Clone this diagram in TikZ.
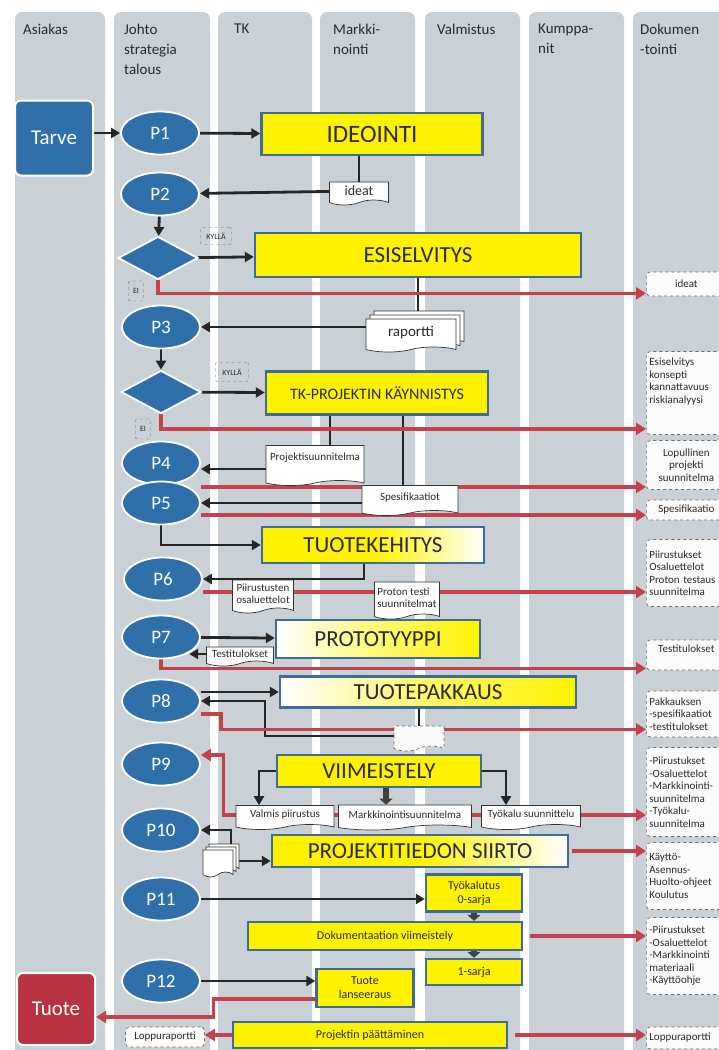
\documentclass[tikz,border=0pt]{standalone}
\usepackage{fontspec}
\setmainfont{Carlito}
\usetikzlibrary{shapes.geometric,shapes.symbols,arrows.meta,shadows}

\definecolor{lanegray}{HTML}{C9D1D7}
\definecolor{pblue}{HTML}{2F6FAA}
\definecolor{tuotered}{HTML}{B8323F}
\definecolor{arrred}{HTML}{C4414E}
\definecolor{ylw}{HTML}{FFF200}
\definecolor{boxline}{HTML}{3F6C94}
\definecolor{txt}{HTML}{2B2B2B}

\pgfdeclarelayer{lanes}
\pgfdeclarelayer{lines}
\pgfsetlayers{lanes,lines,main}

\tikzset{
  lane/.style={fill=lanegray,rounded corners=7pt},
  lanehead/.style={anchor=north west,align=left,inner sep=0pt,text=txt,font=\fontsize{15}{20}\selectfont},
  pnode/.style={ellipse,fill=pblue,draw=white,line width=1.8pt,minimum width=78pt,minimum height=43pt,inner sep=0pt,text=white,font=\fontsize{19}{19}\selectfont},
  choice/.style={diamond,fill=pblue,draw=white,line width=1.8pt,minimum width=80pt,minimum height=43pt,inner sep=0pt},
  endbox/.style={rounded corners=6pt,draw=white,line width=2pt,minimum width=78pt,text=white,font=\fontsize{21}{21}\selectfont},
  task/.style={draw=boxline,line width=2.4pt,fill=ylw,text=txt,inner sep=0pt},
  bigtask/.style={task,font=\fontsize{23}{23}\selectfont},
  smalltask/.style={task,align=center,font=\fontsize{12}{14}\selectfont},
  doc/.style={tape,tape bend top=none,tape bend bottom=in and out,tape bend height=5pt,draw=black!80,line width=0.7pt,fill=white,text=txt,inner sep=1pt,align=center,font=\fontsize{11}{12}\selectfont},
  stack/.style={double copy shadow={shadow xshift=#1,shadow yshift=#1}},
  tag/.style={draw=gray!80!black,dashed,rounded corners=2pt,inner sep=1pt,text=txt,font=\fontsize{8}{8}\selectfont},
  note/.style={draw=gray!85!black,dashed,line width=0.7pt,rounded corners=4pt,fill=white!92!lanegray,text=txt,inner sep=2pt,font=\fontsize{11}{12.5}\selectfont},
  record/.style={note,anchor=west,text width=74pt,inner xsep=3pt,inner ysep=0pt},
  blk/.style={draw=black!85,line width=2.8pt,-{Triangle[length=9pt,width=10pt]}},
  blkline/.style={draw=black!85,line width=2.5pt},
  fat/.style={draw=black!75,line width=6pt,-{Triangle[length=6pt,width=13pt]}},
  reda/.style={draw=arrred,line width=3.6pt,-{Triangle[length=10pt,width=12pt]}}
}

\begin{document}
\begin{tikzpicture}[x=1pt,y=-1pt]
\useasboundingbox (0,0) rectangle (718,1050);

\begin{pgfonlayer}{lanes}
\foreach \xa/\xb in {15/105,114/210,218/312,320/415,425/520,529/624,633/740}
  \fill[lane] (\xa,12) rectangle (\xb,1070);
\end{pgfonlayer}

\foreach \hx/\htxt [count=\i] in {23/Asiakas,124/{Johto\\strategia\\talous},234/TK,333/{Markki-\\nointi},437/Valmistus,538/{Kumppa-\\nit},640/{Dokumen\\-tointi}}
  \node[lanehead] at (\hx,24) (h\i) {\htxt};

\node[endbox,fill=pblue,minimum height=75pt] at (54,138) (tarve) {Tarve};
\node[pnode] at (160,133) (p1) {P1};
\node[bigtask,font=\fontsize{25}{25}\selectfont,minimum width=221pt,minimum height=42pt] at (372,134) (ideo) {IDEOINTI};
\node[doc,font=\fontsize{14}{14}\selectfont,minimum width=59pt,minimum height=23pt] at (359,191) (ideat) {ideat};
\node[pnode] at (160,194) (p2) {P2};
\node[choice] at (158,258) (d1) {};
\node[tag,minimum width=31pt,minimum height=17pt] at (216,236) (kyl1) {KYLLÄ};
\node[tag,minimum width=15pt,minimum height=20pt] at (136,291) (ei1) {EI};
\node[bigtask,minimum width=326pt,minimum height=44pt] at (418,255) (esis) {ESISELVITYS};
\node[doc,stack=4pt,font=\fontsize{15}{15}\selectfont,minimum width=90pt,minimum height=33pt] at (411,333) (rap) {raportti};
\node[pnode] at (161,327) (p3) {P3};
\node[choice] at (161,392) (d2) {};
\node[tag,minimum width=33pt,minimum height=19pt] at (232,372) (kyl2) {KYLLÄ};
\node[tag,minimum width=15pt,minimum height=20pt] at (143,429) (ei2) {EI};
\node[task,font=\fontsize{16}{16}\selectfont,minimum width=222pt,minimum height=43pt] at (377,393) (tkp) {TK-PROJEKTIN KÄYNNISTYS};
\node[doc,minimum width=98pt,minimum height=40pt] at (315,463) (projs) {Projektisuunnitelma\\ \mbox{}};
\node[pnode] at (161,463) (p4) {P4};
\node[pnode] at (161,503) (p5) {P5};
\node[doc,minimum width=96pt,minimum height=30pt] at (410,498) (spes) {Spesifikaatiot};

\node[bigtask,left color=ylw,right color=white,middle color=ylw,minimum width=222pt,minimum height=36pt] at (373,545) (tkeh) {TUOTEKEHITYS};
\node[pnode] at (163,579) (p6) {P6};
\node[doc,minimum width=61pt,minimum height=33pt] at (263,594) (piir) {Piirustusten\\osaluettelot};
\node[doc,align=left,minimum width=65pt,minimum height=37pt] at (407,598) (proton) {Proton testi\\suunnitelmat};
\node[pnode] at (161,637) (p7) {P7};
\node[bigtask,left color=white,right color=ylw,middle color=ylw!55!white,minimum width=204pt,minimum height=38pt] at (378,639) (proto) {PROTOTYYPPI};
\node[doc,inner sep=0.5pt,minimum width=67pt,minimum height=19pt] at (240,654) (testd) {Testitulokset};
\node[pnode] at (161,701) (p8) {P8};
\node[bigtask,left color=white,right color=ylw,middle color=ylw!60!white,minimum width=296pt,minimum height=31pt] at (428,692) (tpak) {TUOTEPAKKAUS};
\node[doc,dashed,draw=gray!80!black,fill=white!90!lanegray,minimum width=50pt,minimum height=25pt] at (419,736) (packd) {};
\coordinate (k8) at (265,701);

\node[pnode] at (161,764) (p9) {P9};
\node[bigtask,minimum width=204pt,minimum height=32pt] at (379,771) (viim) {VIIMEISTELY};
\node[doc,minimum width=98pt,minimum height=24pt] at (285,815) (valm) {Valmis piirustus};
\node[doc,minimum width=133pt,minimum height=25pt] at (405,815) (markk) {Markkinointisuunnitelma};
\node[doc,minimum width=99pt,minimum height=24pt] at (531,815) (tyk) {Työkalu suunnittelu};
\node[pnode] at (161,830) (p10) {P10};
\node[doc,stack=3pt,minimum width=30pt,minimum height=27pt] at (218,861) (mdoc) {};
\node[bigtask,left color=ylw,right color=white,middle color=ylw,minimum width=296pt,minimum height=32pt] at (420,851) (ptied) {PROJEKTITIEDON SIIRTO};
\node[pnode] at (161,899) (p11) {P11};
\node[smalltask,minimum width=96pt,minimum height=37pt] at (474,893) (tyokal) {Työkalutus\\0-sarja};
\node[smalltask,minimum width=274pt,minimum height=28pt] at (385,936) (doku) {Dokumentaation viimeistely};
\node[smalltask,minimum width=96pt,minimum height=26pt] at (474,972) (sarja1) {1-sarja};
\node[pnode] at (161,981) (p12) {P12};
\node[smalltask,minimum width=97pt,minimum height=38pt] at (365,988) (tl) {Tuote\\lanseeraus};
\node[endbox,fill=tuotered,minimum height=72pt] at (56,1009) (tuote) {Tuote};
\node[note,minimum width=79pt,minimum height=20pt] at (165,1037) (lopl) {Loppuraportti};
\node[smalltask,minimum width=274pt,minimum height=26pt] at (370,1035) (pp) {Projektin päättäminen};

\node[record,align=center,minimum height=24pt] at (646,284) (rid) {ideat};
\node[record,align=left,minimum height=83pt] at (646,393) (resis) {Esiselvitys\\konsepti\\kannattavuus\\riskianalyysi\\ \mbox{}\\ \mbox{}};
\node[record,align=center,minimum height=49pt] at (646,465) (rlop) {Lopullinen\\projekti\\suunnitelma};
\node[record,align=center,minimum height=20pt] at (646,510) (rspe) {Spesifikaatio};
\node[record,align=left,minimum height=67pt] at (646,573) (rpir) {Piirustukset\\Osaluettelot\\Proton testaus\\suunnitelma};
\node[record,align=center,minimum height=30pt] at (646,655) (rtest) {Testitulokset\\ \mbox{}};
\node[record,align=left,minimum height=46pt] at (646,714) (rpak) {Pakkauksen\\-spesifikaatiot\\-testitulokset};
\node[record,align=left,minimum height=89pt] at (646,792) (rpir2) {-Piirustukset\\-Osaluettelot\\-Markkinointi-\\suunnitelma\\-Työkalu-\\suunnitelma};
\node[record,align=left,minimum height=67pt] at (646,876) (rkay) {Käyttö-\\Asennus-\\Huolto-ohjeet\\Koulutus};
\node[record,align=left,minimum height=77pt] at (646,956) (rpir3) {-Piirustukset\\-Osaluettelot\\-Markkinointi\\materiaali\\-Käyttöohje};
\node[record,align=left,minimum height=22pt] at (646,1038) (lopr) {Loppuraportti};

\coordinate (a1) at ([xshift=15pt]projs.north);
\coordinate (a2) at ([xshift=-7pt]spes.north);
\coordinate (a3) at ([xshift=-9pt]tkeh.south);
\coordinate (a4) at ([xshift=-26pt]valm.north);
\coordinate (a5) at ([xshift=-25pt]tyk.north);
\coordinate (a6) at ([xshift=13pt]mdoc.north);
\coordinate (a7) at ([xshift=7pt]viim.south);
\coordinate (r4) at ([yshift=-24pt]p4.east);
\coordinate (r5) at ([yshift=-12pt]p5.east);
\coordinate (r6) at ([yshift=-13pt]p6.east);
\coordinate (r8) at ([yshift=-13pt]p8.east);
\coordinate (rt) at ([yshift=-11pt]tl.west);

\begin{pgfonlayer}{lines}
\path[every edge/.style=blk]
  (tarve.east |- p1) edge (p1)
  (p1) edge (ideo)
  (ideat) edge (p2)
  (p2) edge (d1)
  (d1) edge (esis)
  (p3.east -| rap.west) edge (p3.east)
  (p3) edge (d2)
  (d2) edge (tkp)
  ([yshift=-6pt]projs.west) edge ([yshift=-6pt]p4.east)
  (spes.west |- p5) edge (p5)
  (p7) edge (proto)
  (testd.west) edge (testd.west -| p7.south east)
  (tpak.west -| p8.east) edge (tpak.west)
  (mdoc) edge (mdoc -| ptied.west)
  (p11.east) edge (p11.east -| tyokal.west)
  (p12.east) edge (p12.east -| tl.west)
  ;
\draw[blk] (p5.south) |- (tkeh.west);
\draw[blk] (a3) |- (p6.east);
\draw[blk] (packd.west) -| (k8) -- (p8);
\draw[blk] (viim.west) -| (a4);
\draw[blk] (viim.east) -| (a5);
\draw[blk] (a6) |- (p10.east);

\draw[blkline] (ideat.north) -- (ideat.north |- ideo.south);
\draw[blkline] (esis.south) -- (esis.south |- rap.north);
\draw[blkline] (a1) -- (a1 |- tkp.south);
\draw[blkline] (a2) -- (a2 |- tkp.south);
\draw[blkline] (packd.north) -- (packd.north |- tpak.south);

\draw[fat] (a7) -- (a7 |- markk.north);
\draw[fat] (tyokal) -- (tyokal |- doku.north);
\draw[fat] (doku.south -| sarja1) -- (sarja1);

\draw[reda] (d1.south) |- ([yshift=3pt]rid.south west);
\draw[reda] (d2.south) |- ([yshift=6pt]resis.south west);
\draw[reda] (r4) -- (r4 -| rlop.west);
\draw[reda] (r5) -- (r5 -| rspe.west);
\draw[reda] (r6) -- (r6 -| rpir.west);
\draw[reda] (p7.south) |- ([yshift=2pt]rtest.south west);
\draw[reda] (r8) -- ++(20,0) |- ([yshift=8pt]rpak.south west);
\draw[reda] (valm.west) -- ++(-12,0) |- ([yshift=9pt]p9.east);
\draw[reda] (valm.center) -- (valm.center -| rpir2.west);
\draw[reda,shorten <=3pt] (ptied.east) -- (ptied.east -| rkay.west);
\draw[reda,shorten <=7pt] (doku.east) -- (doku.east -| rpir3.west);
\draw[reda] (rt) -- ++(-102,0) |- ([yshift=-8pt]tuote.east);
\draw[reda] (pp.west) -- (pp.west -| lopl.east);
\draw[reda,shorten <=7pt] (pp.east) -- (pp.east -| lopr.west);
\end{pgfonlayer}
\end{tikzpicture}
\end{document}
